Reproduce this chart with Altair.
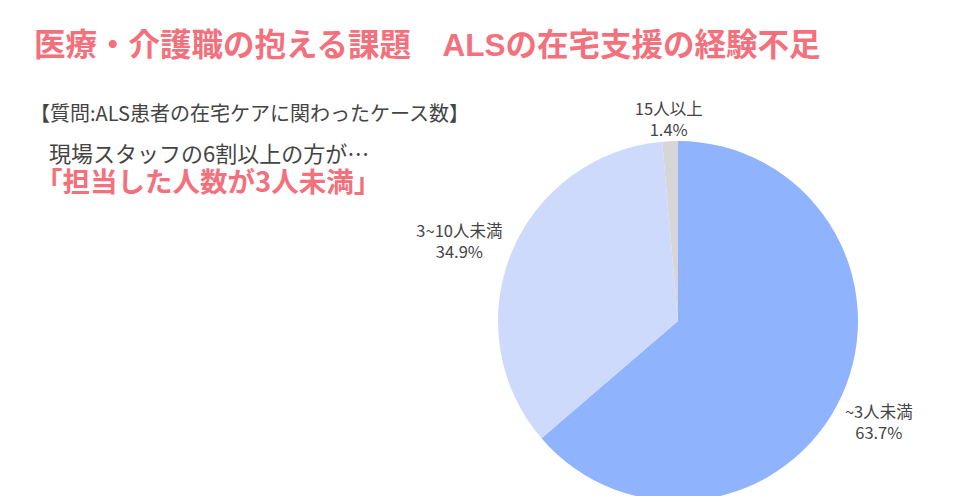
import altair as alt
import pandas as pd

# ---- data ----
categories = ["~3人未満", "3~10人未満", "15人以上"]
values = [63.7, 34.9, 1.4]
colors = ["#8fb3fc", "#cddafb", "#d6d6d8"]

title_text = "医療・介護職の抱える課題\u3000ALSの在宅支援の経験不足"
question_text = "【質問:ALS患者の在宅ケアに関わったケース数】"
lead_text = "現場スタッフの6割以上の方が…"
highlight_text = "「担当した人数が3人未満」"

FONT = "Noto Sans CJK JP"
TITLE_FONT = "Liberation Sans, Noto Sans CJK JP"
PINK = "#f3707d"

df = pd.DataFrame({"category": categories, "value": values, "rank": list(range(1, len(categories) + 1))})

CX, CY, R = 670, 313, 180

pie = alt.Chart(df).mark_arc(outerRadius=R, stroke=None).encode(
    theta=alt.Theta("value:Q", stack=True),
    order=alt.Order("rank:Q"),
    color=alt.Color("category:N", scale=alt.Scale(domain=categories, range=colors), legend=None),
    x=alt.value(CX),
    y=alt.value(CY),
)

labels = alt.Chart(df).transform_window(
    cum="sum(value)", sort=[alt.SortField("rank")], frame=[None, 0]
).transform_calculate(
    mid="(datum.cum - datum.value / 2) / 100 * 2 * PI",
    r="datum.rank == 1 ? 221 : datum.rank == 2 ? 236 : 211",
    px=f"{CX} + datum.r * sin(datum.mid)",
    py=f"{CY} - datum.r * cos(datum.mid)",
    label="datum.category + '\\n' + format(datum.value, '.1f') + '%'",
).mark_text(
    font=FONT, fontSize=16.5, color="#444444", lineBreak="\n", lineHeight=21,
    align="center", baseline="middle",
).encode(
    x=alt.X("px:Q", scale=None),
    y=alt.Y("py:Q", scale=None),
    text="label:N",
)

def header(txt, x, y, size, color, weight="normal", font=FONT):
    return alt.Chart(pd.DataFrame({"t": [txt]})).mark_text(
        font=font, fontSize=size, color=color, fontWeight=weight,
        align="left", baseline="middle",
    ).encode(text="t:N", x=alt.value(x), y=alt.value(y))

title = header(title_text, 26, 39, 31.5, PINK, "bold", TITLE_FONT)
question = header(question_text, 22, 107, 20, "#444444")
lead = header(lead_text, 41, 147, 22, "#444444")
highlight = header(highlight_text, 27, 176, 27.5, PINK, "bold")

chart = alt.layer(pie, labels, title, question, lead, highlight).properties(
    width=944, height=488, padding=0,
    autosize=alt.AutoSizeParams(type="none"),
    background="white",
).configure_view(stroke=None)

chart.save("out.html", embed_options={"renderer": "svg", "actions": False})
